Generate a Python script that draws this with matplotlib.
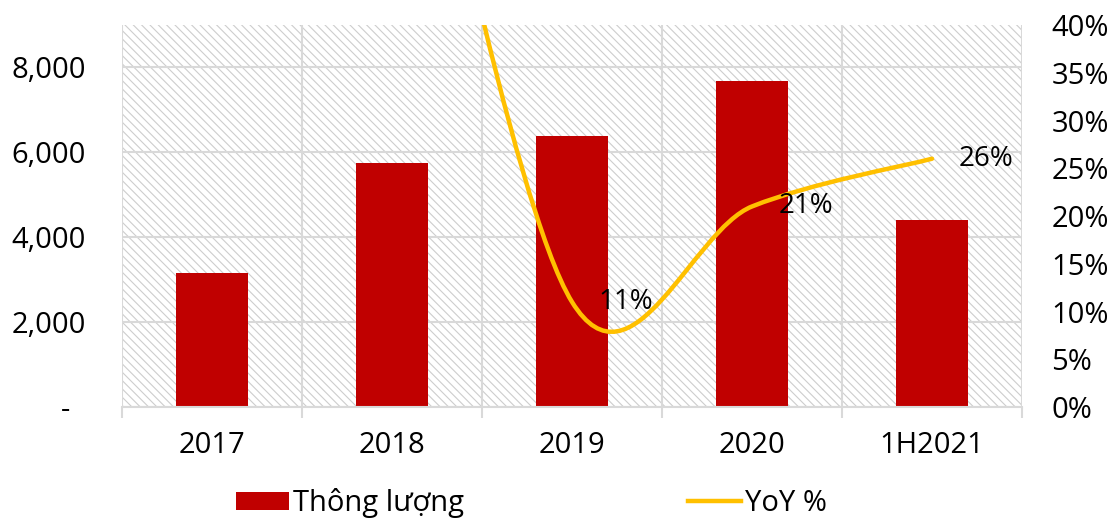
import matplotlib.pyplot as plt
from matplotlib.path import Path
from matplotlib.patches import PathPatch, Rectangle, Patch
from matplotlib.lines import Line2D
from matplotlib.ticker import FuncFormatter

plt.rcParams['font.family'] = ['Open Sans', 'DejaVu Sans']
plt.rcParams['hatch.linewidth'] = 0.8

categories = ['2017', '2018', '2019', '2020', '1H2021']
throughput = [3160, 5760, 6390, 7690, 4410]
yoy = [None, 0.82, 0.11, 0.21, 0.26]

bar_color = '#C00000'
line_color = '#FFC000'
grid_color = '#d9d9d9'

fig = plt.figure(figsize=(11.17, 5.22), dpi=100)
ax = fig.add_axes([0.1092, 0.2203, 0.8058, 0.7318])

# hatched plot area
ax.add_patch(Rectangle((0, 0), 1, 1, transform=ax.transAxes, facecolor='white',
                       edgecolor='#cdcdcd', linewidth=0, hatch='\\\\\\\\', zorder=0))

x = list(range(len(categories)))
ax.bar(x, throughput, width=0.4, color=bar_color, zorder=2)

ax.set_xlim(-0.5, len(categories) - 0.5)
ax.set_ylim(0, 9000)
ax.set_yticks([0, 2000, 4000, 6000, 8000])
ax.yaxis.set_major_formatter(FuncFormatter(lambda v, p: '-  ' if v == 0 else f'{v:,.0f}'))
ax.set_xticks(x)
ax.set_xticklabels(categories)
ax.set_xticks([i - 0.5 for i in range(len(categories) + 1)], minor=True)

ax.grid(axis='y', color=grid_color, lw=1.5, zorder=1)
ax.grid(axis='x', which='minor', color=grid_color, lw=1.5, zorder=1)
ax.set_axisbelow(True)
for s in ax.spines.values():
    s.set_visible(False)
ax.spines['bottom'].set_visible(True)
ax.spines['bottom'].set_color(grid_color)
ax.spines['bottom'].set_linewidth(1.5)

ax.tick_params(axis='y', length=0, pad=26, labelsize=21)
ax.tick_params(axis='x', which='major', length=0, pad=17, labelsize=21)
ax.tick_params(axis='x', which='minor', length=8, width=1.5, color=grid_color, direction='out')

# YoY line on secondary axis, smoothed like Excel
ax2 = ax.twinx()
ax2.set_ylim(0, 0.40)
ax2.set_yticks([i * 0.05 for i in range(9)])
ax2.yaxis.set_major_formatter(FuncFormatter(lambda v, p: f'{v:.0%}'))
ax2.tick_params(axis='y', length=0, pad=21, labelsize=21)
for s in ax2.spines.values():
    s.set_visible(False)

pts = [(i, v) for i, v in zip(x, yoy) if v is not None]
verts = [pts[0]]
codes = [Path.MOVETO]
for k in range(len(pts) - 1):
    p0 = pts[max(k - 1, 0)]
    p1 = pts[k]
    p2 = pts[k + 1]
    p3 = pts[min(k + 2, len(pts) - 1)]
    c1 = (p1[0] + (p2[0] - p0[0]) / 6, p1[1] + (p2[1] - p0[1]) / 6)
    c2 = (p2[0] - (p3[0] - p1[0]) / 6, p2[1] - (p3[1] - p1[1]) / 6)
    verts += [c1, c2, p2]
    codes += [Path.CURVE4] * 3
ax2.add_patch(PathPatch(Path(verts, codes), facecolor='none', edgecolor=line_color,
                        lw=3.2, capstyle='round', zorder=3))

for i, v in pts:
    if v <= 0.40:
        ax2.annotate(f'{v:.0%}', (i, v), xytext=(19, 0), textcoords='offset points',
                     ha='left', va='center', fontsize=20, zorder=4)

handles = [Patch(facecolor=bar_color, label='Thông lượng'),
           Line2D([], [], color=line_color, lw=3.2, label='YoY %')]
fig.legend(handles=handles, loc='center', bbox_to_anchor=(0.476, 0.036), ncol=2,
           frameon=False, fontsize=21, columnspacing=7.7, handlelength=1.8,
           handleheight=0.6, handletextpad=0.15, borderpad=0)

plt.savefig('out.png', dpi=100)
